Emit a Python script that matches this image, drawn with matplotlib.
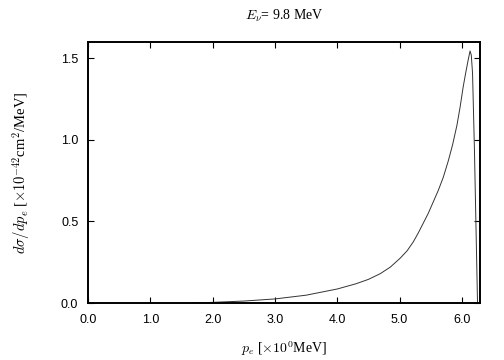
import matplotlib
matplotlib.use("Agg")
import matplotlib.pyplot as plt

plt.rcParams['mathtext.fontset'] = 'cm'

# electron momentum [MeV] and cross section [1e-42 cm^2/MeV]
p_e = [1.69, 2.0, 2.5, 3.0, 3.5, 4.0, 4.3, 4.5, 4.69, 4.85, 5.01, 5.12, 5.22,
       5.30, 5.38, 5.46, 5.54, 5.62, 5.70, 5.78, 5.85, 5.92, 5.97, 6.02, 6.06,
       6.10, 6.13, 6.15, 6.17, 6.20, 6.25]
dsigma = [0.0, 0.004, 0.012, 0.025, 0.048, 0.086, 0.118, 0.145, 0.18, 0.22,
          0.275, 0.32, 0.375, 0.43, 0.49, 0.55, 0.62, 0.69, 0.77, 0.87, 0.97,
          1.09, 1.20, 1.325, 1.41, 1.49, 1.545, 1.52, 1.41, 0.95, 0.0]

xticks = [0, 1, 2, 3, 4, 5, 6]
yticks = [0.0, 0.5, 1.0, 1.5]

fig = plt.figure(figsize=(5.04, 3.6), dpi=100)
ax = fig.add_axes([0.1746, 0.1583, 0.7778, 0.725])

ax.plot(p_e, dsigma, color='#333333', lw=0.7)

ax.set_xlim(0, 6.29)
ax.set_ylim(0, 1.6)
ax.set_xticks(xticks)
ax.set_xticklabels(['%.1f' % x for x in xticks], family='Liberation Sans')
ax.set_yticks(yticks)
ax.set_yticklabels(['%.1f' % y for y in yticks], family='Liberation Sans')
ax.tick_params(direction='in', top=True, right=True, labelsize=9,
               length=4, width=0.8)
ax.tick_params(axis='x', pad=8)
ax.tick_params(axis='y', pad=7)
for s in ax.spines.values():
    s.set_linewidth(1.4)

ax.set_title(r'$E_\nu$= 9.8 MeV', fontsize=10, family='Liberation Serif', pad=16)
ax.set_xlabel(r'$p_e$ [$\times10^0$MeV]', fontsize=10, family='Liberation Serif')
ax.xaxis.set_label_coords(0.5, -0.14)
ax.set_ylabel(r'$d\sigma/dp_e$ [$\times10^{-42}$cm$^2$/MeV]', fontsize=10.5,
              family='Liberation Serif', labelpad=21)

fig.savefig('out.png', dpi=100)
